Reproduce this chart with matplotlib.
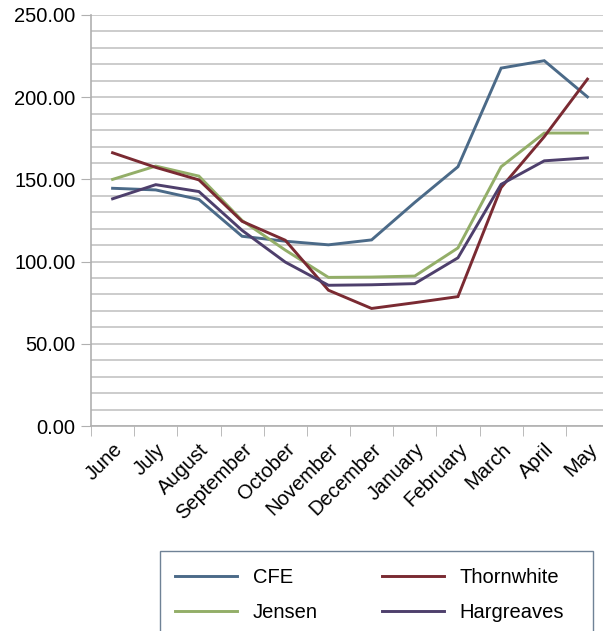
import matplotlib
matplotlib.use("Agg")
import matplotlib.pyplot as plt
from matplotlib.patches import Rectangle
import numpy as np

months = ["June", "July", "August", "September", "October", "November",
          "December", "January", "February", "March", "April", "May"]
cfe = [144.6, 143.6, 137.8, 115.4, 112.4, 110.2, 113.2, 136.0, 157.7, 217.7, 222.2, 200.2]
thornwhite = [166.2, 157.3, 149.7, 124.5, 113.0, 82.6, 71.5, 75.0, 78.7, 145.0, 176.0, 211.0]
jensen = [150.0, 158.1, 152.0, 125.0, 107.0, 90.4, 90.6, 91.2, 108.3, 157.7, 178.2, 178.2]
hargreaves = [138.2, 146.8, 142.6, 119.0, 99.7, 85.6, 85.9, 86.6, 102.3, 147.0, 161.3, 163.1]

series = [("CFE", cfe, "#4b6a88"), ("Jensen", jensen, "#93ae68"),
          ("Thornwhite", thornwhite, "#7a2a32"), ("Hargreaves", hargreaves, "#4e3f6c")]

plt.rcParams['font.family'] = ['Liberation Sans', 'DejaVu Sans']
FS = 14.5

fig = plt.figure(figsize=(6.03, 6.31), dpi=100)
ax = fig.add_axes([91/603, 1-426/631, (603-91)/603 + 0.01, (426-15)/631])

x = np.arange(len(months))
handles = {}
for name, vals, col in series:
    h, = ax.plot(x, vals, color=col, lw=2.1, solid_joinstyle='miter')
    handles[name] = h

ax.set_xlim(-0.5, len(months) - 0.5)
ax.set_ylim(0, 250)
ax.set_yticks(np.arange(0, 251, 50))
ax.set_yticks(np.arange(0, 251, 10), minor=True)
ax.set_yticklabels([f"{v:.2f}" for v in np.arange(0, 251, 50)], fontsize=FS)
ax.yaxis.grid(True, which='both', color='#c4c4c4', lw=1.2)
ax.set_axisbelow(True)
ax.tick_params(axis='y', which='major', length=7, color='#b0b0b0', pad=4)
ax.tick_params(axis='y', which='minor', length=0)

ax.set_xticks(x)
ax.set_xticklabels(months, rotation=45, ha='right', va='top', rotation_mode='anchor', fontsize=FS)
ax.set_xticks(np.arange(-0.5, len(months), 1), minor=True)
ax.tick_params(axis='x', which='major', length=0, pad=10)
ax.tick_params(axis='x', which='minor', length=7, color='#b0b0b0')

for s in ['top', 'right']:
    ax.spines[s].set_visible(False)
for s in ['left', 'bottom']:
    ax.spines[s].set_color('#b0b0b0')
    ax.spines[s].set_linewidth(1.2)

# legend frame (extends past the bottom edge of the figure)
fig.patches.append(Rectangle((160/603, -0.05), (593-160)/603, 0.05 + (631-551)/631,
                             transform=fig.transFigure, fill=False,
                             edgecolor='#6f8296', lw=1.0))

order = ["CFE", "Jensen", "Thornwhite", "Hargreaves"]
leg = fig.legend([handles[n] for n in order], order, ncol=2, loc='upper left',
                 bbox_to_anchor=(169/603, 1-562/631), fontsize=FS,
                 handlelength=3.1, columnspacing=3.2, handletextpad=0.75,
                 labelspacing=0.78, borderpad=0.3, frameon=False,
                 borderaxespad=0)

fig.savefig("out.png", dpi=100)
